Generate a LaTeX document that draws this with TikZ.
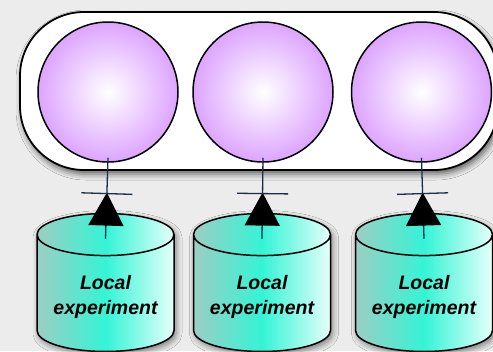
\documentclass[tikz,border=0pt]{standalone}
\usepackage{fontspec}
\setsansfont{Liberation Sans}
\usepackage{tikz}
\usetikzlibrary{shapes.geometric,positioning,arrows.meta,decorations.markings,shadows.blur}

\definecolor{orb}{HTML}{DDA4FF}
\definecolor{tealdark}{HTML}{9CCEC3}
\definecolor{tealmid}{HTML}{34F4D6}
\definecolor{teallight}{HTML}{E6FFFB}
\definecolor{wire}{HTML}{1B2B4B}
\definecolor{paper}{HTML}{ECECEC}

\begin{document}
\begin{tikzpicture}[x=1pt, y=1pt,
		cluster/.style = {draw, line width=1.8pt, fill=white, rounded corners=64pt, minimum width=478pt, minimum height=158pt,
			blur shadow={shadow xshift=2pt, shadow yshift=-4pt, shadow blur radius=6pt, shadow opacity=60}},
		site/.style    = {circle, draw, line width=1.5pt, inner color=white, outer color=orb, minimum size=140pt},
		store/.style   = {cylinder, shape border rotate=90, aspect=0.38, draw, line width=1.5pt,
			minimum width=137pt, minimum height=138pt, left color=tealdark, right color=teallight, middle color=tealmid,
			align=center, font=\sffamily\bfseries\itshape\fontsize{19.5}{25}\selectfont,
			blur shadow={shadow xshift=2pt, shadow yshift=-3pt, shadow blur radius=6pt, shadow opacity=50}},
		feed/.style    = {draw=wire, line width=1.3pt, postaction={decorate},
			decoration={markings, mark=at position 0.57 with {
				\arrow[black]{Triangle[width=35pt, length=33pt]};
				\draw[wire, line width=1.3pt] (-1,-25.5) -- (-1,25.5);}}}]
		
		% page and its frame
		\useasboundingbox (0,0) rectangle (493,-351);
		\clip (0,0) rectangle (493,-351);
		\fill[paper] (0,0) rectangle (493,-351);
		
		% the pool holding the three sites
		\node[cluster] (pool) at (259,-91) {};
		\node[site] (s1) at (108,-92) {};
		\node[site] (s2) at (263,-92) {};
		\node[site] (s3) at (421.5,-92) {};
		
		% local stores, below their sites
		\node[store, below=50pt of s1.south, xshift=-2.5pt] (c1) {Local\\experiment};
		\node[store, below=50pt of s2.south, xshift=-1pt] (c2) {Local\\experiment};
		\node[store, below=50pt of s3.south, xshift=2.5pt] (c3) {Local\\experiment};
		
		% feeds from every store up to its site
		\foreach \value in {1,2,3}
		\draw[feed] ([yshift=-26pt]c\value.top) -- ([yshift=5pt]s\value.south);
		
	\end{tikzpicture}
\end{document}
